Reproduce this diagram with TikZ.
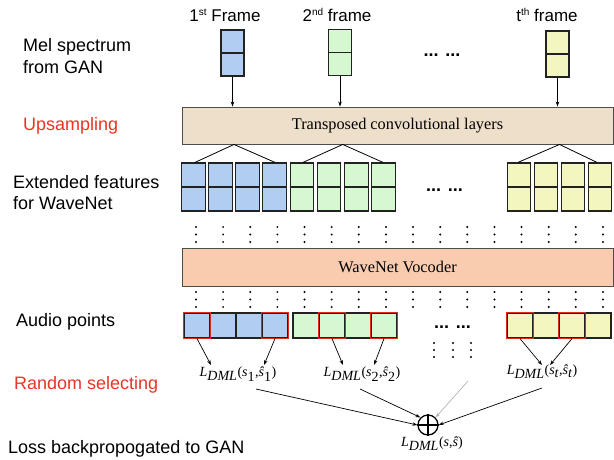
\documentclass[tikz,border=0pt]{standalone}
\usepackage{fontspec}
\setmainfont{Liberation Serif}
\newfontfamily\hel{Liberation Sans}
\usetikzlibrary{calc,arrows.meta}
\definecolor{cblue}{HTML}{B2CDF2}
\definecolor{cgreen}{HTML}{D6F8D0}
\definecolor{cyellow}{HTML}{F4F6C0}
\definecolor{cbeige}{HTML}{EEDFCA}
\definecolor{cpeach}{HTML}{F9CCB0}
\definecolor{cred}{HTML}{DD2C1C}
\definecolor{tred}{HTML}{EB3323}
\definecolor{edge}{HTML}{222222}
\begin{document}
\begin{tikzpicture}[x=1pt,y=-1pt,
  lab/.style={font=\hel\fontsize{18}{21}\selectfont, anchor=base west, inner sep=0},
  toplab/.style={font=\hel\fontsize{17}{20}\selectfont, anchor=base, inner sep=0},
  framebox/.style={draw=edge, line width=1.2pt, minimum width=23pt, minimum height=46pt, inner sep=0},
  feat/.style={draw=edge, line width=1.2pt, minimum width=23.5pt, minimum height=48pt, inner sep=0},
  apt/.style={draw=edge, line width=1.2pt, minimum width=26pt, minimum height=25pt, inner sep=0},
  layer/.style={draw=black!70, line width=0.9pt, minimum width=431pt, inner sep=0, font=\fontsize{16.3}{18}\selectfont},
  arr/.style={-{Stealth[length=5pt,width=3.5pt]}, line width=0.7pt},
  fan/.style={line width=0.8pt},
  dml/.style={font=\fontsize{14}{16}\selectfont, inner sep=0},
  ell/.style={font=\hel\bfseries\fontsize{18}{20}\selectfont, inner sep=0}]
\useasboundingbox (0,0) rectangle (614,459);

% left labels
\node[lab] (t1) at (23,51) {Mel spectrum};
\node[lab] (t2) at (23,73) {from GAN};
\node[lab, text=tred] (t3) at (23,130) {Upsampling};
\node[lab] (t4) at (13,188) {Extended features};
\node[lab] (t5) at (13,209) {for WaveNet};
\node[lab] (t6) at (16,326) {Audio points};
\node[lab, text=tred] (t7) at (14,389) {Random selecting};
\node[lab] (t8) at (8,453) {Loss backpropogated to GAN};

% top labels
\node[toplab] (h1) at (225,21) {1{\fontsize{10}{10}\selectfont\raisebox{6pt}{st}} Frame};
\node[toplab] (h2) at (337,21) {2{\fontsize{10}{10}\selectfont\raisebox{6pt}{nd}} frame};
\node[toplab] (h3) at (547,21) {t{\fontsize{10}{10}\selectfont\raisebox{6pt}{th}} frame};

% layers
\node[layer, fill=cbeige, minimum height=37pt] (trans) at (397.5,125.5) {Transposed convolutional layers};
\node[layer, fill=cpeach, minimum height=38pt] (wave) at (397.5,267) {WaveNet Vocoder};

% input frames
\node[framebox, fill=cblue] (f1) at (232.5,53) {};
\node[framebox, fill=cgreen] (f2) at (340,52.5) {};
\node[framebox, fill=cyellow] (ft) at (557.5,54) {};
\foreach \n in {f1,f2,ft} {
  \draw[edge, line width=1.2pt] (\n.west) -- (\n.east);
  \draw[arr] (\n.south) -- (\n.south |- trans.north);
}
\node[ell] (ell1) at (442,55) {... ...};

% extended features
\foreach \x/\c [count=\i] in {193.5/cblue,220.5/cblue,247.5/cblue,274.5/cblue,
  302/cgreen,329/cgreen,356.5/cgreen,383.5/cgreen,
  519/cyellow,546/cyellow,573/cyellow,600/cyellow} {
  \node[feat, fill=\c] (e\i) at (\x,187) {};
  \draw[edge, line width=1.2pt] (e\i.west) -- (e\i.east);
}
\node[ell] (ell2) at (444.5,190) {... ...};

% fans
\coordinate (apb) at ($(trans.south -| e1.north)!0.5!(trans.south -| e4.north)$);
\coordinate (apg) at ($(trans.south -| e5.north)!0.5!(trans.south -| e8.north)$);
\coordinate (apy) at ($(trans.south -| e9.north)!0.5!(trans.south -| e12.north)$);
\draw[fan] ($(e1.north)+(1.5,0)$) -- (apb) -- ($(e4.north)+(0.5,0)$);
\draw[fan] ($(e5.north)+(1,0)$) -- (apg) -- ($(e8.north)+(-0.5,0)$);
\draw[fan] ($(e9.north)+(-1,0)$) -- (apy) -- ($(e12.north)+(-3,0)$);

% vertical dots
\foreach \i in {0,...,15} {
  \foreach \y in {227,234.5,242,292,299.5,307}
    \fill (196+27.13*\i,\y) circle[radius=1.1pt];
}

% audio points
\foreach \x/\c [count=\i] in {197/cblue,223/cblue,249/cblue,275/cblue,
  306/cgreen,332/cgreen,358/cgreen,384/cgreen,
  520/cyellow,546/cyellow,572/cyellow,598/cyellow} {
  \node[apt, fill=\c] (a\i) at (\x,325.5) {};
}
\foreach \i in {1,4,6,8,9,11}
  \draw[cred, line width=1.7pt] (a\i.south west) rectangle (a\i.north east);
\node[ell] (ell3) at (452.5,327) {... ...};
\foreach \x in {434,453,471} {
  \foreach \y in {343,350,357}
    \fill (\x,\y) circle[radius=1.1pt];
}

% losses
\node[dml] (l1) at (238,374) {\textit{L}$_{\textit{DML}}$(\textit{s}$_{\textrm{1}}$,\textit{ŝ}$_{\textrm{1}}$)};
\node[dml] (l2) at (362,374) {\textit{L}$_{\textit{DML}}$(\textit{s}$_{\textrm{2}}$,\textit{ŝ}$_{\textrm{2}}$)};
\node[dml] (lt) at (542,372) {\textit{L}$_{\textit{DML}}$(\textit{s}$_{\textit{t}}$,\textit{ŝ}$_{\textit{t}}$)};
\node[circle, draw, line width=1.3pt, minimum size=20pt, inner sep=0] (sum) at (428,425) {};
\draw[line width=1.3pt] (sum.north) -- (sum.south) (sum.west) -- (sum.east);
\node[dml] (ls) at (432,444) {\textit{L}$_{\textit{DML}}$(\textit{s},\textit{ŝ})};

\draw[arr] (a1.south) -- ($(l1.center)+(-27,-9)$);
\draw[arr] (a4.south) -- ($(l1.center)+(26,-9)$);
\draw[arr] (a6.south) -- ($(l2.center)+(-19,-9)$);
\draw[arr] (a8.south) -- ($(l2.center)+(12,-9)$);
\draw[arr] (a9.south) -- ($(lt.center)+(0,-7)$);
\draw[arr] (a11.south) -- ($(lt.center)+(8,-7)$);

\coordinate (gs) at (468,381);
\draw[arr] ($(l1.center)+(18,15)$) -- (sum.west);
\draw[arr] ($(l2.center)+(-2,15)$) -- (sum.north west);
\draw[arr, gray!60] (gs) -- (sum.north east);
\draw[arr] ($(lt.center)+(0,16)$) -- (sum.east);
\end{tikzpicture}
\end{document}
